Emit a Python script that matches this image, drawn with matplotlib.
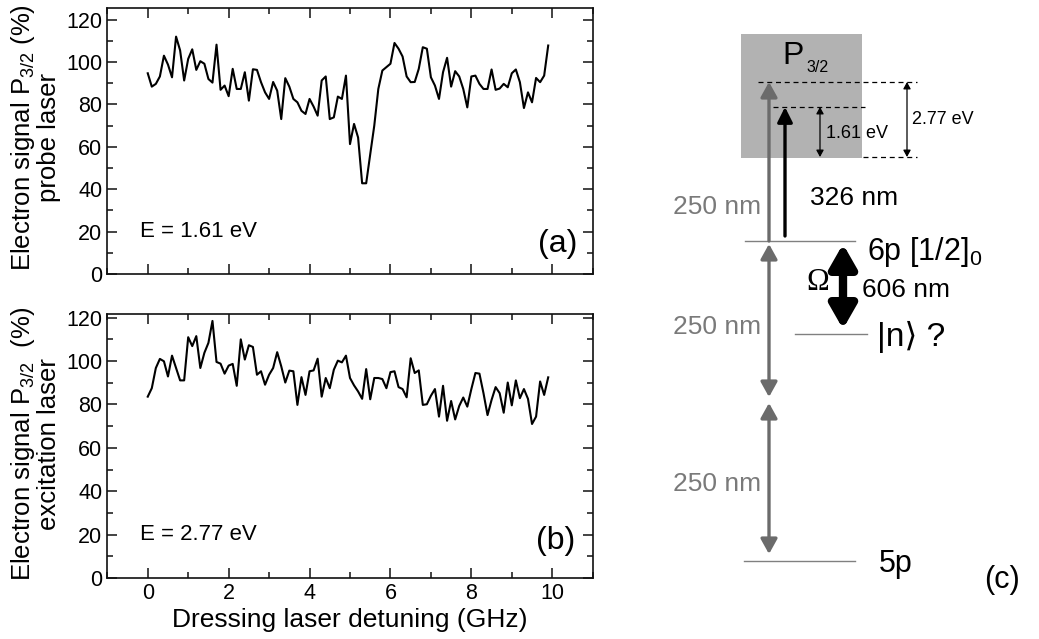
import numpy as np
import matplotlib
matplotlib.use("Agg")
import matplotlib.pyplot as plt
from matplotlib.ticker import MultipleLocator
from matplotlib.patches import Rectangle

plt.rcParams['font.family'] = ['Liberation Sans', 'DejaVu Sans']

# ---------------- data ----------------
detuning = np.linspace(0.0, 9.9, 100)  # GHz, sampling grid

probe_signal = [
    94.7, 88.4, 89.7, 93.2, 103.0, 98.8, 92.8, 112.0, 105.5, 91.3,
    101.5, 106.0, 96.3, 100.4, 99.2, 92.0, 90.3, 108.2, 86.9, 88.9,
    83.9, 96.8, 87.3, 87.3, 95.2, 81.8, 96.6, 96.3, 90.5, 85.7,
    82.6, 90.6, 86.5, 73.1, 92.4, 88.4, 82.6, 81.0, 77.0, 75.5,
    82.6, 79.0, 74.7, 91.3, 93.2, 73.1, 73.9, 83.7, 82.6, 93.6,
    61.3, 70.8, 64.4, 42.8, 42.8, 56.5, 70.0, 87.3, 96.0, 97.6,
    99.2, 109.0, 106.3, 102.6, 93.2, 90.5, 90.6, 96.8, 107.0, 106.3,
    92.8, 88.9, 82.6, 95.2, 102.0, 88.4, 95.7, 93.2, 87.3, 78.6,
    93.2, 93.6, 89.7, 87.3, 87.3, 96.5, 86.9, 87.5, 89.7, 88.1,
    94.7, 96.5, 90.5, 78.3, 85.7, 81.0, 92.5, 90.5, 93.6, 107.8,
]

excitation_signal = [
    83.6, 87.5, 96.8, 101.0, 99.9, 92.9, 102.5, 96.8, 91.1, 91.1,
    111.0, 106.9, 111.5, 96.8, 103.8, 108.4, 118.5, 99.6, 98.8, 94.2,
    97.9, 98.7, 88.6, 110.0, 100.7, 107.3, 106.5, 93.7, 95.3, 89.1,
    93.7, 96.8, 104.1, 97.6, 90.1, 95.6, 95.3, 79.8, 92.6, 84.4,
    95.3, 95.7, 101.1, 83.6, 92.2, 87.5, 96.0, 100.2, 99.4, 102.5,
    92.2, 88.8, 86.0, 82.6, 96.3, 82.4, 92.2, 92.2, 91.7, 87.5,
    94.9, 95.3, 88.0, 87.1, 83.3, 101.3, 94.5, 95.7, 79.8, 80.1,
    84.0, 87.1, 74.4, 88.6, 72.5, 81.6, 73.1, 79.3, 83.2, 79.0,
    87.1, 94.5, 94.2, 85.2, 75.1, 82.1, 88.0, 85.2, 76.2, 90.1,
    79.6, 91.1, 82.9, 87.1, 82.6, 71.0, 74.4, 90.6, 84.4, 92.5,
]

x_ticks = [0, 2, 4, 6, 8, 10]
y_ticks = [0, 20, 40, 60, 80, 100, 120]

# diagram level positions (pixel rows in the figure)
level_5p = 561
level_n = 334
level_6p = 241
level_probe = 107   # 326 nm arrival (1.61 eV above threshold)
level_exc = 82      # 250 nm arrival (2.77 eV above threshold)
level_thr = 157     # P3/2 threshold

# ---------------- figure ----------------
W, H = 1039, 639
fig = plt.figure(figsize=(W / 100, H / 100), dpi=100)

def style_axes(ax, ymax, show_xlabels):
    ax.set_xlim(-1, 11)
    ax.set_ylim(0, ymax)
    ax.set_xticks(x_ticks)
    ax.set_yticks(y_ticks)
    ax.xaxis.set_minor_locator(MultipleLocator(1))
    ax.yaxis.set_minor_locator(MultipleLocator(10))
    ax.tick_params(which='both', direction='in', top=True, right=True,
                   labelsize=15.5, width=1.1, color='#111111')
    ax.tick_params(which='major', length=7)
    ax.tick_params(which='minor', length=4)
    if not show_xlabels:
        ax.tick_params(labelbottom=False)
    for s in ax.spines.values():
        s.set_linewidth(1.2)
        s.set_color('#111111')

ax1 = fig.add_axes([107.3 / W, 1 - 274 / H, 485.4 / W, 266 / H])
ax1.plot(detuning, probe_signal, color='black', lw=1.5)
style_axes(ax1, 125.5, False)
ax1.text(-0.2, 20, 'E = 1.61 eV', fontsize=16, ha='left', va='center')
ax1.text(10.62, 14, '(a)', fontsize=23, ha='right', va='center')

ax2 = fig.add_axes([107.3 / W, 1 - 578 / H, 485.4 / W, 264 / H])
ax2.plot(detuning, excitation_signal, color='black', lw=1.5)
style_axes(ax2, 121.7, True)
ax2.text(-0.2, 20, 'E = 2.77 eV', fontsize=16, ha='left', va='center')
ax2.text(10.57, 17, '(b)', fontsize=23, ha='right', va='center')
ax2.set_xlabel('Dressing laser detuning (GHz)', fontsize=19, labelpad=3)

fig.text(35 / W, 1 - 138 / H,
         'Electron signal P$_{\\mathregular{3/2}}$ (%)\nprobe laser',
         rotation=90, ha='center', va='center', fontsize=18.5,
         multialignment='center', linespacing=1.05)
fig.text(35 / W, 1 - 444 / H,
         'Electron signal P$_{\\mathregular{3/2}}$  (%)\nexcitation laser',
         rotation=90, ha='center', va='center', fontsize=18.5,
         multialignment='center', linespacing=1.05)

# ---------------- level diagram (c) ----------------
axd = fig.add_axes([0, 0, 1, 1])
axd.set_xlim(0, W)
axd.set_ylim(H, 0)
axd.axis('off')
axd.patch.set_alpha(0)

axd.add_patch(Rectangle((741, 34), 121, level_thr + 1 - 34,
                        facecolor='#b2b2b2', edgecolor='none', zorder=0))
axd.text(782, 64, 'P', fontsize=23, ha='left', va='baseline')
axd.text(806, 67, '3/2', fontsize=11.5, ha='left', va='center')

dash = dict(color='black', lw=0.9, ls=(0, (4, 3)))
axd.plot([758, 917], [level_exc, level_exc], **dash)
axd.plot([773, 865], [level_probe, level_probe], **dash)
axd.plot([863, 917], [level_thr, level_thr], **dash)

def arrow(x0, y0, x1, y1, style, color, lw, hl, hw):
    axd.annotate('', xy=(x1, y1), xytext=(x0, y0),
                 arrowprops=dict(arrowstyle=f'{style},head_length={hl},head_width={hw}',
                                 color=color, lw=lw, shrinkA=0, shrinkB=0,
                                 mutation_scale=1))

# energy markers
arrow(907, level_thr, 907, level_exc, '<|-|>', 'black', 0.9, 4, 2.2)
arrow(820, level_thr, 820, level_probe, '<|-|>', 'black', 0.9, 4, 2.2)
axd.text(912, 120, '2.77 eV', fontsize=13, ha='left', va='center')
axd.text(826, 133, '1.61 eV', fontsize=13, ha='left', va='center')

# levels
for y, x0, x1 in [(level_6p, 745, 855), (level_n, 795, 867), (level_5p, 744, 855)]:
    axd.plot([x0, x1], [y, y], color='#808080', lw=1.0)

gray = '#6b6b6b'
# 250 nm photons
arrow(769, level_6p, 769, level_exc, '-|>', gray, 2.4, 9, 5)
arrow(769, 397, 769, 244, '<|-|>', gray, 2.4, 9, 5)
arrow(769, 554, 769, 403, '<|-|>', gray, 2.4, 9, 5)
# 326 nm probe
arrow(785, 236, 785, level_probe, '-|>', 'black', 2.4, 9, 4.5)
# 606 nm dressing (Omega)
arrow(843, 329, 843, 244, '<|-|>', 'black', 6, 14, 8)

txtgray = '#7a7a7a'
axd.text(761, 207, '250 nm', fontsize=19, color=txtgray, ha='right', va='center')
axd.text(761, 327, '250 nm', fontsize=19, color=txtgray, ha='right', va='center')
axd.text(761, 484, '250 nm', fontsize=19, color=txtgray, ha='right', va='center')
axd.text(810, 198, '326 nm', fontsize=19, ha='left', va='center')
axd.text(862, 290, '606 nm', fontsize=19, ha='left', va='center')
axd.text(818, 283, '\u03A9', fontsize=22, ha='center', va='center',
         family=['Liberation Serif', 'DejaVu Serif'])
axd.text(867, 252, '6p [1/2]$_{\\mathregular{0}}$', fontsize=22, ha='left', va='center')
axd.text(877, 337, '|n\u27E9 ?', fontsize=24, ha='left', va='center',
         family=['Liberation Sans', 'DejaVu Sans'])
axd.text(879, 564, '5p', fontsize=22, ha='left', va='center')
axd.text(984, 580, '(c)', fontsize=22, ha='left', va='center')

fig.savefig('out.png', dpi=100)
